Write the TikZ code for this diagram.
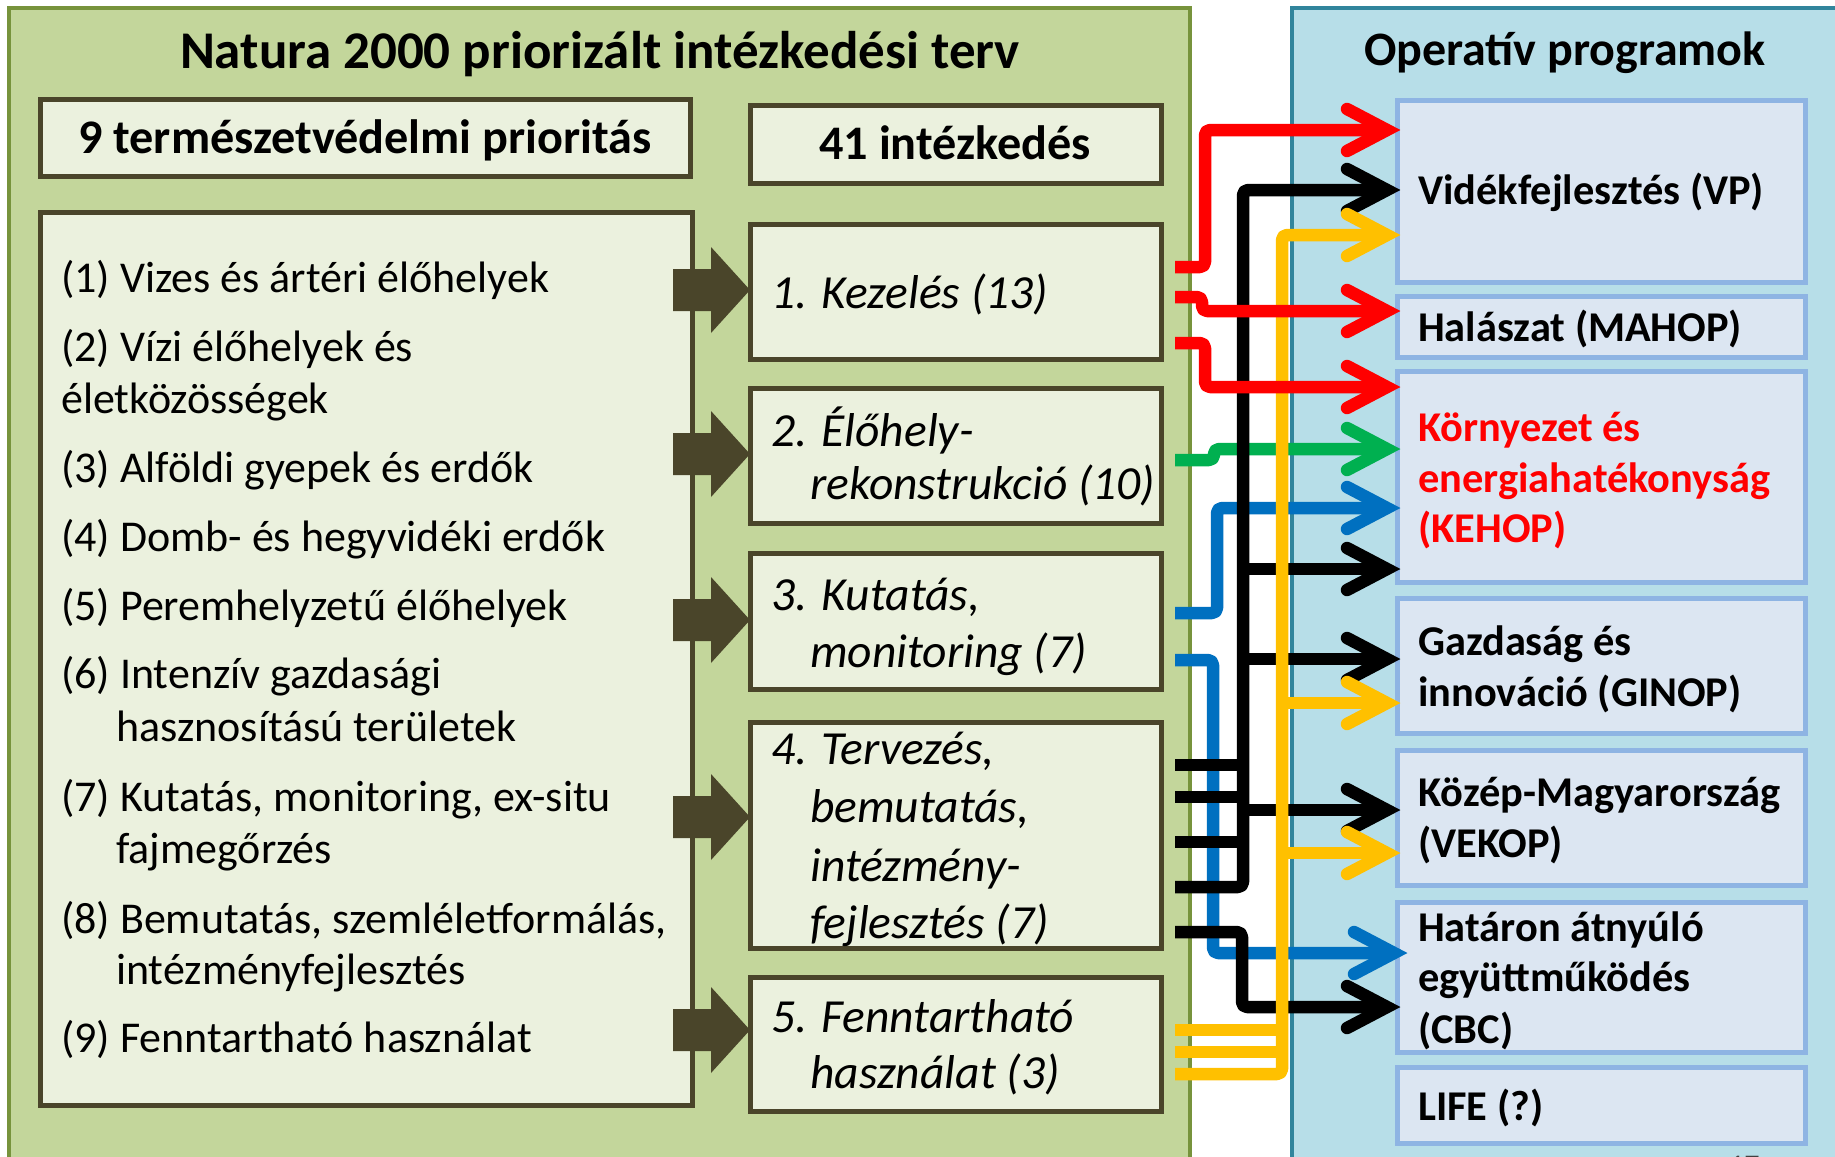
\documentclass[tikz,border=0pt]{standalone}
\usepackage{fontspec}
\setmainfont{Carlito}
\usetikzlibrary{calc}
\definecolor{panelG}{HTML}{C3D69B}
\definecolor{panelGb}{HTML}{77933C}
\definecolor{boxG}{HTML}{EBF1DE}
\definecolor{boxGb}{HTML}{4A452A}
\definecolor{panelB}{HTML}{B7DEE8}
\definecolor{panelBb}{HTML}{31859C}
\definecolor{boxB}{HTML}{DCE6F2}
\definecolor{boxBb}{HTML}{8EB4E3}
\definecolor{cRed}{HTML}{FF0000}
\definecolor{cYel}{HTML}{FFC000}
\definecolor{cGrn}{HTML}{00B050}
\definecolor{cBlu}{HTML}{0070C0}
\newcommand\ahd[2]{\draw[hd,#1] (#2) ++(-40,-21) -- (#2) -- ++(-40,21);}
\begin{document}
\begin{tikzpicture}[x=1bp,y=-1bp,
  gpanel/.style={draw=panelGb,fill=panelG,line width=4bp,anchor=north west,inner sep=0,outer sep=0},
  bpanel/.style={draw=panelBb,fill=panelB,line width=4bp,anchor=north west,inner sep=0,outer sep=0},
  gbox/.style={draw=boxGb,fill=boxG,line width=5bp,anchor=north west,inner sep=0,outer sep=0},
  obox/.style={draw=boxBb,fill=boxB,line width=5bp,anchor=north west,inner sep=0,outer sep=0,minimum width=408bp},
  ttl/.style={anchor=base,inner sep=0,font=\fontsize{53bp}{60bp}\selectfont\bfseries},
  hdr/.style={anchor=base,inner sep=0,font=\fontsize{48.2bp}{56bp}\selectfont\bfseries},
  ltxt/.style={anchor=base west,inner sep=0,font=\fontsize{44bp}{52bp}\selectfont},
  mtxt/.style={anchor=base west,inner sep=0,font=\fontsize{47.5bp}{57bp}\selectfont\itshape},
  rtxt/.style={anchor=base west,inner sep=0,font=\fontsize{42.4bp}{50bp}\selectfont\bfseries},
  cl/.style={line width=12.5bp,rounded corners=5bp,line cap=butt,line join=round},
  hd/.style={line width=12.5bp,line cap=round,line join=miter,sharp corners},
  barrow/.pic={\fill[boxGb] (-77,-21) -- (-39,-21) -- (-39,-43) -- (0,0) -- (-39,43) -- (-39,21) -- (-77,21) -- cycle;}
]
\useasboundingbox (0,0) rectangle (1835,1156);
\clip (0,0) rectangle (1835,1156);
\fill[white] (0,0) rectangle (1835,1156);

% panels
\node[gpanel,minimum width=1181bp,minimum height=1190bp] (natura) at (9,8) {};
\node[bpanel,minimum width=560bp,minimum height=1190bp] (opp) at (1292,8) {};

\node[ttl] (nattitle) at (600,68) {Natura 2000 priorizált intézkedési terv};
\node[hdr,font=\fontsize{48bp}{56bp}\selectfont\bfseries] (optitle) at (1565,65) {Operatív programok};

% left column
\node[gbox,minimum width=650bp,minimum height=77bp] (prhead) at (40,99) {};
\node[hdr] (prheadt) at (365,153) {9 természetvédelmi prioritás};
\node[gbox,minimum width=652bp,minimum height=893bp] (prlist) at (40,212) {};
\node[ltxt] (l1) at (61,292) {(1) Vizes és ártéri élőhelyek};
\node[ltxt] (l2a) at (61,361) {(2) Vízi élőhelyek és};
\node[ltxt] (l2b) at (61,413) {életközösségek};
\node[ltxt] (l3) at (61,482) {(3) Alföldi gyepek és erdők};
\node[ltxt] (l4) at (61,551) {(4) Domb- és hegyvidéki erdők};
\node[ltxt] (l5) at (61,620) {(5) Peremhelyzetű élőhelyek};
\node[ltxt] (l6a) at (61,688) {(6) Intenzív gazdasági};
\node[ltxt] (l6b) at (116,741) {hasznosítású területek};
\node[ltxt] (l7a) at (61,811) {(7) Kutatás, monitoring, ex-situ};
\node[ltxt] (l7b) at (116,863) {fajmegőrzés};
\node[ltxt] (l8a) at (61,933) {(8) Bemutatás, szemléletformálás,};
\node[ltxt] (l8b) at (116,984) {intézményfejlesztés};
\node[ltxt] (l9) at (61,1052) {(9) Fenntartható használat};

% middle column
\node[gbox,minimum width=411bp,minimum height=78bp] (mhead) at (750,105) {};
\node[hdr] (mheadt) at (955,159) {41 intézkedés};
\node[gbox,minimum width=411bp,minimum height=135bp] (m1) at (750,224) {};
\node[gbox,minimum width=411bp,minimum height=135bp] (m2) at (750,388) {};
\node[gbox,minimum width=411bp,minimum height=136bp] (m3) at (750,553) {};
\node[gbox,minimum width=411bp,minimum height=226bp] (m4) at (750,722) {};
\node[gbox,minimum width=411bp,minimum height=134bp] (m5) at (750,977) {};
\node[mtxt] (m1t) at (771,308) {1. Kezelés (13)};
\node[mtxt] (m2ta) at (771,446) {2. Élőhely-};
\node[mtxt] (m2tb) at (810,499) {rekonstrukció (10)};
\node[mtxt] (m3ta) at (771,610) {3. Kutatás,};
\node[mtxt] (m3tb) at (810,667) {monitoring (7)};
\node[mtxt] (m4ta) at (771,764) {4. Tervezés,};
\node[mtxt] (m4tb) at (810,822) {bemutatás,};
\node[mtxt] (m4tc) at (810,881) {intézmény-};
\node[mtxt] (m4td) at (810,938) {fejlesztés (7)};
\node[mtxt] (m5ta) at (771,1032) {5. Fenntartható};
\node[mtxt] (m5tb) at (810,1088) {használat (3)};

% block arrows
\coordinate (a1) at (750,290);
\coordinate (a2) at (750,454);
\coordinate (a3) at (750,620);
\coordinate (a4) at (750,817);
\coordinate (a5) at (750,1030);
\foreach \a in {a1,a2,a3,a4,a5} {\pic at (\a) {barrow};}

% operative programmes
\node[obox,minimum height=182bp] (vp) at (1397,100) {};
\node[obox,minimum height=61bp] (mahop) at (1397,296) {};
\node[obox,minimum height=211bp] (kehop) at (1397,371) {};
\node[obox,minimum height=135bp] (ginop) at (1397,598) {};
\node[obox,minimum height=135bp] (vekop) at (1397,750) {};
\node[obox,minimum height=150bp] (cbc) at (1397,902) {};
\node[obox,minimum height=76bp] (life) at (1397,1067) {};
\node[rtxt] (vpt) at (1418,204) {Vidékfejlesztés (VP)};
\node[rtxt] (mahopt) at (1418,341) {Halászat (MAHOP)};
\node[rtxt,text=cRed] (kehopa) at (1418,441) {Környezet és};
\node[rtxt,text=cRed] (kehopb) at (1418,492) {energiahatékonyság};
\node[rtxt,text=cRed] (kehopc) at (1418,542) {(KEHOP)};
\node[rtxt] (ginopa) at (1418,655) {Gazdaság és};
\node[rtxt] (ginopb) at (1418,706) {innováció (GINOP)};
\node[rtxt] (vekopa) at (1418,806) {Közép-Magyarország};
\node[rtxt] (vekopb) at (1418,857) {(VEKOP)};
\node[rtxt] (cbca) at (1418,941) {Határon átnyúló};
\node[rtxt] (cbcb) at (1418,991) {együttműködés};
\node[rtxt] (cbcc) at (1418,1043) {(CBC)};
\node[rtxt] (lifet) at (1418,1120) {LIFE (?)};
\node[anchor=base west,inner sep=0,font=\fontsize{30bp}{36bp}\selectfont,text=black!75] (pgno) at (1729,1175) {17};

% connector sources and tips
\coordinate (bkx) at (1243,0);
\coordinate (ylx) at (1282,0);
\coordinate (sR1) at (1175,267);
\coordinate (sR2) at (1175,297);
\coordinate (sR3) at (1175,343);
\coordinate (sG) at (1175,460);
\coordinate (sB1) at (1175,613);
\coordinate (sB2) at (1175,660);
\coordinate (sK1) at (1175,765);
\coordinate (sK2) at (1175,797);
\coordinate (sK3) at (1175,842);
\coordinate (sK4) at (1175,887);
\coordinate (sK5) at (1175,932);
\coordinate (sY1) at (1175,1030);
\coordinate (sY2) at (1175,1052);
\coordinate (sY3) at (1175,1074);
\coordinate (tR1) at ([xshift=-10bp]vp.west |- 0,130);
\coordinate (tK1) at ([xshift=-10bp]vp.west |- 0,190);
\coordinate (tY1) at ([xshift=-10bp]vp.west |- 0,235);
\coordinate (tR2) at ([xshift=-10bp]mahop.west |- 0,311);
\coordinate (tR3) at ([xshift=-10bp]kehop.west |- 0,387);
\coordinate (tG) at ([xshift=-10bp]kehop.west |- 0,449);
\coordinate (tB1) at ([xshift=-10bp]kehop.west |- 0,508);
\coordinate (tK2) at ([xshift=-10bp]kehop.west |- 0,569);
\coordinate (tK3) at ([xshift=-10bp]ginop.west |- 0,659);
\coordinate (tY2) at ([xshift=-10bp]ginop.west |- 0,703);
\coordinate (tK4) at ([xshift=-10bp]vekop.west |- 0,810);
\coordinate (tY3) at ([xshift=-10bp]vekop.west |- 0,853);
\coordinate (tB2) at ([xshift=-3bp]cbc.west |- 0,953);
\coordinate (tK5) at ([xshift=-10bp]cbc.west |- 0,1007);

% blue
\draw[cl,cBlu] (sB1) -- ++(42,0) |- (tB1);
\ahd{cBlu}{tB1}
\draw[cl,cBlu] (sB2) -- ++(38,0) |- (tB2);
\ahd{cBlu}{tB2}
% green
\draw[cl,cGrn] (sG) -- ++(39,0) |- (tG);
\ahd{cGrn}{tG}
% black
\draw[cl,black] (sK4) -| (bkx |- tK1) -- (tK1);
\draw[cl,black] (sK1) -- (sK1 -| bkx);
\draw[cl,black] (sK2) -- (sK2 -| bkx);
\draw[cl,black] (sK3) -- (sK3 -| bkx);
\draw[cl,black] (tK2 -| bkx) -- (tK2);
\draw[cl,black] (tK3 -| bkx) -- (tK3);
\draw[cl,black] (tK4 -| bkx) -- (tK4);
\draw[cl,black] (sK5) -- ++(67,0) |- (tK5);
\ahd{black}{tK1}
\ahd{black}{tK2}
\ahd{black}{tK3}
\ahd{black}{tK4}
\ahd{black}{tK5}
% yellow
\draw[cl,cYel] (sY3) -| (ylx |- tY1) -- (tY1);
\draw[cl,cYel] (sY1) -- (sY1 -| ylx);
\draw[cl,cYel] (sY2) -- (sY2 -| ylx);
\draw[cl,cYel] (tY2 -| ylx) -- (tY2);
\draw[cl,cYel] (tY3 -| ylx) -- (tY3);
\ahd{cYel}{tY1}
\ahd{cYel}{tY2}
\ahd{cYel}{tY3}
% red
\draw[cl,cRed] (sR1) -- ++(30,0) |- (tR1);
\draw[cl,cRed] (sR2) -- ++(27,0) |- (tR2);
\draw[cl,cRed] (sR3) -- ++(30,0) |- (tR3);
\ahd{cRed}{tR1}
\ahd{cRed}{tR2}
\ahd{cRed}{tR3}
\end{tikzpicture}
\end{document}
